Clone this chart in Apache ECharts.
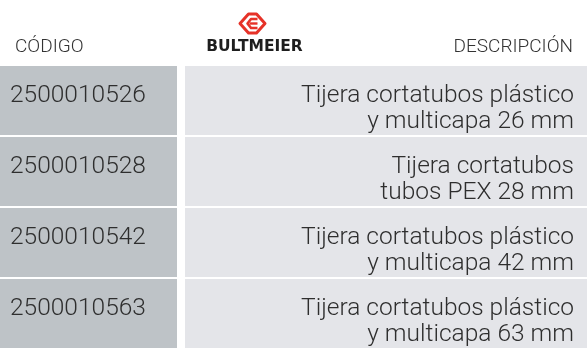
<!DOCTYPE html>
<html>
<head>
<meta charset="utf-8">
<script src="https://cdn.jsdelivr.net/npm/echarts@6/dist/echarts.min.js"></script>
<style>
html,body{margin:0;padding:0;background:#fff;}
#c{width:587px;height:350px;}
</style>
</head>
<body>
<div id="c"></div>
<script>
var headers = ['CÓDIGO', 'DESCRIPCIÓN'];
var brand = 'BULTMEIER';
var codes = ['2500010526', '2500010528', '2500010542', '2500010563'];
var descLine1 = ['Tijera cortatubos plástico', 'Tijera cortatubos', 'Tijera cortatubos plástico', 'Tijera cortatubos plástico'];
var descLine2 = ['y multicapa 26 mm', 'tubos PEX 28 mm', 'y multicapa 42 mm', 'y multicapa 63 mm'];

var FONT = 'Roboto, "Noto Sans", sans-serif';
var chart = echarts.init(document.getElementById('c'), null, {renderer: 'canvas'});

function renderItem(params, api) {
  var idx = params.dataIndex;
  var cy = api.coord([0, idx])[1];
  var bandH = api.size([0, 1])[1];
  var top = cy - bandH / 2;
  var h = bandH - 2;
  var x0 = params.coordSys.x;
  var w = params.coordSys.width;
  var leftW = 177;
  var gap = 8;
  var f = '300 24.5px ' + FONT;
  return {
    type: 'group',
    children: [
      {type: 'rect', shape: {x: x0, y: top, width: leftW, height: h}, style: {fill: '#bec3c7'}},
      {type: 'rect', shape: {x: x0 + leftW + gap, y: top, width: w - leftW - gap, height: h}, style: {fill: '#e4e5e9'}},
      {type: 'text', style: {x: x0 + 10, y: top + 30, text: codes[idx], fill: '#2e2e2e', font: f, verticalAlign: 'middle', align: 'left'}},
      {type: 'text', style: {x: x0 + w - 13, y: top + 30, text: descLine1[idx], fill: '#2e2e2e', font: f, verticalAlign: 'middle', align: 'right'}},
      {type: 'text', style: {x: x0 + w - 13, y: top + 55.5, text: descLine2[idx], fill: '#2e2e2e', font: f, verticalAlign: 'middle', align: 'right'}}
    ]
  };
}

chart.setOption({
  animation: false,
  grid: {left: 0, right: 0, top: 66, height: 290},
  xAxis: {type: 'value', min: 0, max: 1, show: false},
  yAxis: {type: 'category', data: codes, inverse: true, show: false},
  graphic: [
    {type: 'text', x: 15, y: 47.5, style: {text: headers[0], fill: '#333333', font: '300 19px ' + FONT, verticalAlign: 'middle', align: 'left'}},
    {type: 'text', x: 573, y: 47.5, style: {text: headers[1], fill: '#333333', font: '300 19px ' + FONT, verticalAlign: 'middle', align: 'right'}},
    {type: 'text', x: 254.5, y: 47, style: {text: brand, fill: '#1e1e1e', font: 'bold 15.5px "DejaVu Sans", sans-serif', verticalAlign: 'middle', align: 'center'}},
    {type: 'polygon', x: 252.5, y: 23.5, shape: {points: [[-4, -9.5], [4, -9.5], [12.5, 0], [4, 9.5], [-4, 9.5], [-12.5, 0]]}, style: {fill: 'none', stroke: '#e63228', lineWidth: 3, lineJoin: 'round'}},
    {type: 'polyline', x: 252.5, y: 23.5, shape: {points: [[5, -4.5], [-1.5, -4.5], [-5, 0], [-1.5, 4.5], [5, 4.5]]}, style: {fill: 'none', stroke: '#e63228', lineWidth: 2.6, lineJoin: 'round'}},
    {type: 'line', x: 252.5, y: 23.5, shape: {x1: -3, y1: 0, x2: 5, y2: 0}, style: {stroke: '#e63228', lineWidth: 2.4}}
  ],
  series: [{
    type: 'custom',
    renderItem: renderItem,
    data: codes.map(function (c, i) { return [0, i]; }),
    encode: {x: 0, y: 1}
  }]
});
</script>
</body>
</html>
